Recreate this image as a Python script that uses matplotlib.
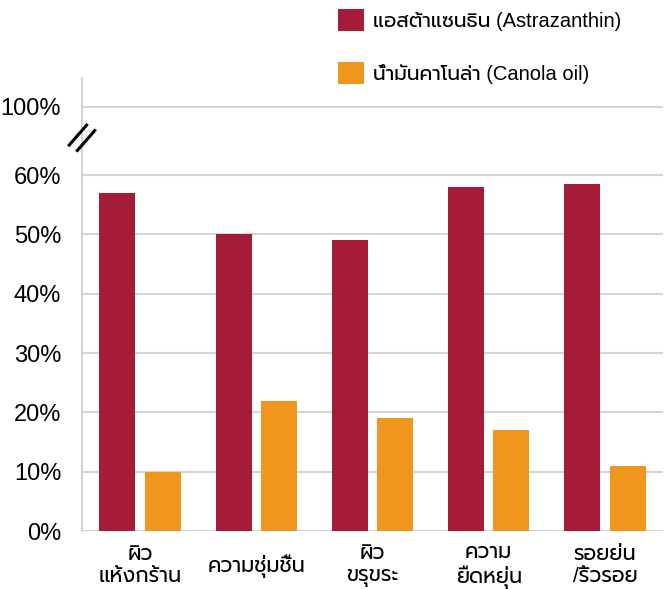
import matplotlib
matplotlib.use('Agg')
import matplotlib.pyplot as plt
import numpy as np

# Data
categories = ['ผิว\nแห้งกร้าน', 'ความชุ่มชื้น', 'ผิว\nขรุขระ', 'ความ\nยืดหยุ่น', 'รอยย่น\n/ริ้วรอย']
astra = [57, 50, 49, 58, 58.5]
canola = [10, 22, 19, 17, 11]
series_names = ['แอสต้าแซนธิน (Astrazanthin)', 'น้ำมันคาโนล่า (Canola oil)']
yticks = [0, 10, 20, 30, 40, 50, 60, 100]

RED = '#A51C38'
ORANGE = '#F0961E'
GRID = '#d4d4d4'

plt.rcParams['font.family'] = ['Liberation Sans', 'Prompt']

# broken axis: everything above 60% is squashed
BREAK = 60.0
SQUASH = 11.5 / 40.0


def fwd(y):
    y = np.asarray(y, dtype=float)
    return np.where(y <= BREAK, y, BREAK + (y - BREAK) * SQUASH)


def inv(y):
    y = np.asarray(y, dtype=float)
    return np.where(y <= BREAK, y, BREAK + (y - BREAK) / SQUASH)


fig = plt.figure(figsize=(6.65, 5.89), dpi=100)
ax = fig.add_axes([82 / 665, 1 - 531 / 589, 581 / 665, 453 / 589])

x = np.arange(len(categories))
w = 0.31
b1 = ax.bar(x - 0.195, astra, w, color=RED, label=series_names[0], zorder=3)
b2 = ax.bar(x + 0.195, canola, w, color=ORANGE, label=series_names[1], zorder=3)

ax.set_yscale('function', functions=(fwd, inv))
ax.set_ylim(0, 117)
ax.set_xlim(-0.5, len(categories) - 0.5)
ax.set_yticks(yticks)
ax.set_yticklabels([f'{t}%' for t in yticks], fontsize=17)
ax.set_xticks(x)
ax.set_xticklabels(categories, fontsize=15, linespacing=1.2)
for lab in ax.get_xticklabels():
    lab.set_va('center')
ax.tick_params(axis='both', length=0)
ax.tick_params(axis='y', pad=15)
ax.tick_params(axis='x', pad=25)

ax.grid(axis='y', color=GRID, linewidth=1.5, zorder=0)
for s in ['top', 'right', 'bottom']:
    ax.spines[s].set_visible(False)
ax.spines['left'].set_color(GRID)
ax.spines['left'].set_linewidth(1.5)

# break marks on the y axis
for dx, dy in [(-0.004, 0.0), (0.010, -0.012)]:
    ax.plot([-0.018 + dx, 0.012 + dx], [0.852 + dy, 0.896 + dy], transform=ax.transAxes,
            color='black', linewidth=2.2, clip_on=False, zorder=5)

ax.legend(handles=[b1, b2], loc='upper left', bbox_to_anchor=(338 / 665, 1 - 9 / 589),
          bbox_transform=fig.transFigure, frameon=False, fontsize=14.5,
          handlelength=1.3, handleheight=1.3, handletextpad=0.45,
          labelspacing=1.55, borderpad=0, borderaxespad=0)

fig.savefig('out.png', dpi=100)
